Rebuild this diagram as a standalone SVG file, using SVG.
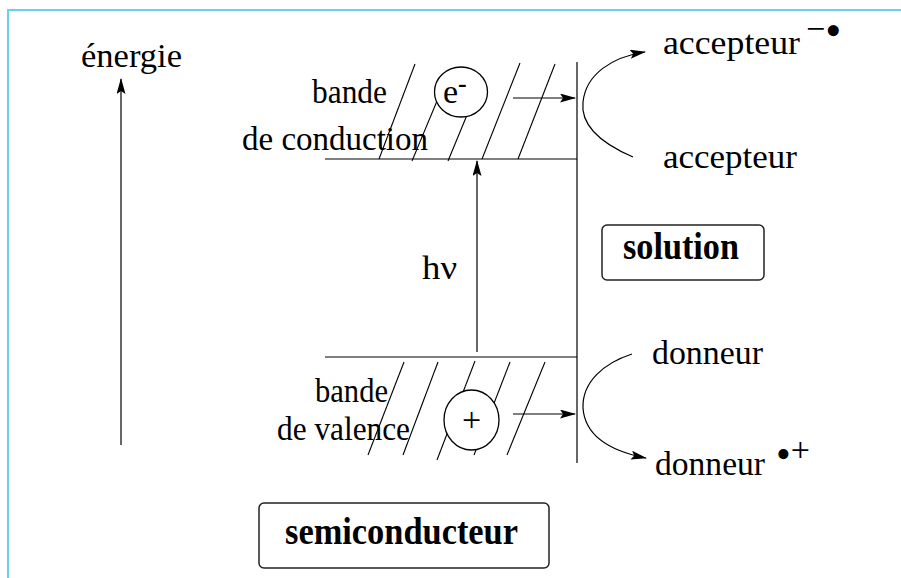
<svg xmlns="http://www.w3.org/2000/svg" width="901" height="578" viewBox="0 0 901 578">
  <style>
    .t { font-family: "Liberation Serif", "Times New Roman", serif; font-size: 34px; fill: #000; }
    .b { font-family: "Liberation Serif", "Times New Roman", serif; font-size: 37px; font-weight: bold; fill: #000; }
    .ln { stroke: #000; stroke-width: 1.2; fill: none; }
    .hatch { stroke: #000; stroke-width: 1.1; fill: none; }
    .arr { stroke: #000; stroke-width: 1.2; fill: none; marker-end: url(#head); }
    .box { fill: #fff; stroke: #222; stroke-width: 1.5; }
    .ring { fill: #fff; stroke: #000; stroke-width: 1.3; }
  </style>
  <defs>
    <marker id="head" viewBox="0 0 16 9" refX="15" refY="4.5" markerWidth="16" markerHeight="9" markerUnits="userSpaceOnUse" orient="auto">
      <path d="M0,0 L16,4.5 L0,9 L3,4.5 Z" fill="#000"/>
    </marker>
  </defs>

  <rect width="901" height="578" fill="#fff"/>

  <!-- frame -->
  <g id="frame">
    <path d="M8,578 V10 H901" stroke="#6CCFF2" stroke-width="2" fill="none"/>
  </g>

  <!-- energy axis -->
  <g id="energie">
    <text class="t" x="81" y="67" textLength="101" lengthAdjust="spacingAndGlyphs">énergie</text>
  </g>

  <!-- band edges and interface -->
  <g id="bands">
    <line class="ln" x1="325" y1="159" x2="577" y2="159"/>
    <line class="ln" x1="325" y1="357" x2="577" y2="357"/>
    <line class="ln" x1="577" y1="62" x2="577" y2="463"/>
  </g>

  <!-- conduction band hatching -->
  <g id="conduction-hatch">
    <line class="hatch" x1="379" y1="159" x2="415" y2="64"/>
    <line class="hatch" x1="412" y1="161" x2="437" y2="101"/>
    <line class="hatch" x1="448" y1="161" x2="467" y2="115"/>
    <line class="hatch" x1="482" y1="159" x2="520" y2="63"/>
    <line class="hatch" x1="518" y1="159" x2="555" y2="64"/>
  </g>

  <!-- valence band hatching -->
  <g id="valence-hatch">
    <line class="hatch" x1="368" y1="455" x2="404" y2="362"/>
    <line class="hatch" x1="403" y1="455" x2="438" y2="362"/>
    <line class="hatch" x1="437" y1="460" x2="475" y2="361"/>
    <line class="hatch" x1="474" y1="455" x2="510" y2="362"/>
    <line class="hatch" x1="507" y1="455" x2="545" y2="362"/>
  </g>

  <g id="conduction-label">
    <text class="t" x="312" y="103" textLength="75" lengthAdjust="spacingAndGlyphs">bande</text>
    <text class="t" x="242" y="150" textLength="186" lengthAdjust="spacingAndGlyphs">de conduction</text>
  </g>

  <g id="valence-label">
    <text class="t" x="315" y="402" textLength="73" lengthAdjust="spacingAndGlyphs">bande</text>
    <text class="t" x="277" y="440" textLength="133" lengthAdjust="spacingAndGlyphs">de valence</text>
  </g>

  <!-- electron -->
  <g id="electron">
    <ellipse class="ring" cx="461" cy="92" rx="26.5" ry="25"/>
    <text class="t" x="443" y="103">e<tspan font-size="26" font-weight="bold" dy="-11">-</tspan></text>
  </g>

  <!-- hole -->
  <g id="hole">
    <ellipse class="ring" cx="471.5" cy="420" rx="27.5" ry="30"/>
    <text class="t" x="471.5" y="431" font-size="34" text-anchor="middle">+</text>
  </g>

  <g id="hv-label">
    <text class="t" x="422" y="279" textLength="35" lengthAdjust="spacingAndGlyphs">hν</text>
  </g>

  <g id="solution">
    <rect class="box" x="602" y="225" width="162" height="55" rx="5"/>
    <text class="b" x="623" y="259" textLength="116" lengthAdjust="spacingAndGlyphs">solution</text>
  </g>

  <g id="semiconducteur">
    <rect class="box" x="259" y="503" width="290" height="65" rx="5"/>
    <text class="b" x="285" y="544" textLength="233" lengthAdjust="spacingAndGlyphs">semiconducteur</text>
  </g>

  <g id="accepteur-reduit">
    <text class="t" x="663" y="54" textLength="137" lengthAdjust="spacingAndGlyphs">accepteur</text>
    <text class="t" x="806" y="40" font-size="33">−<tspan font-size="46" dy="6">•</tspan></text>
  </g>

  <g id="accepteur">
    <text class="t" x="663" y="168" textLength="134" lengthAdjust="spacingAndGlyphs">accepteur</text>
  </g>

  <g id="donneur">
    <text class="t" x="652" y="364" textLength="111" lengthAdjust="spacingAndGlyphs">donneur</text>
  </g>

  <g id="donneur-oxyde">
    <text class="t" x="776" y="461" font-size="26"><tspan font-size="42" dy="7">•</tspan><tspan dy="-7">+</tspan></text>
  </g>
  <g id="donneur-oxyde-label">
    <text class="t" x="655" y="475" textLength="110" lengthAdjust="spacingAndGlyphs">donneur</text>
  </g>

  <!-- connectors -->
  <g id="connectors">
    <line class="arr" x1="121" y1="445" x2="121" y2="79"/>
    <line class="arr" x1="477" y1="352" x2="477" y2="161"/>
    <line class="arr" x1="513" y1="98" x2="575" y2="98"/>
    <line class="arr" x1="513" y1="414" x2="575" y2="414"/>
    <path class="arr" d="M633,157 C605,145 580,128 583,102 C586,74 612,57 645,52"/>
    <path class="arr" d="M632,354 C604,363 582,382 583,408 C585,436 610,451 646,458"/>
  </g>
</svg>
